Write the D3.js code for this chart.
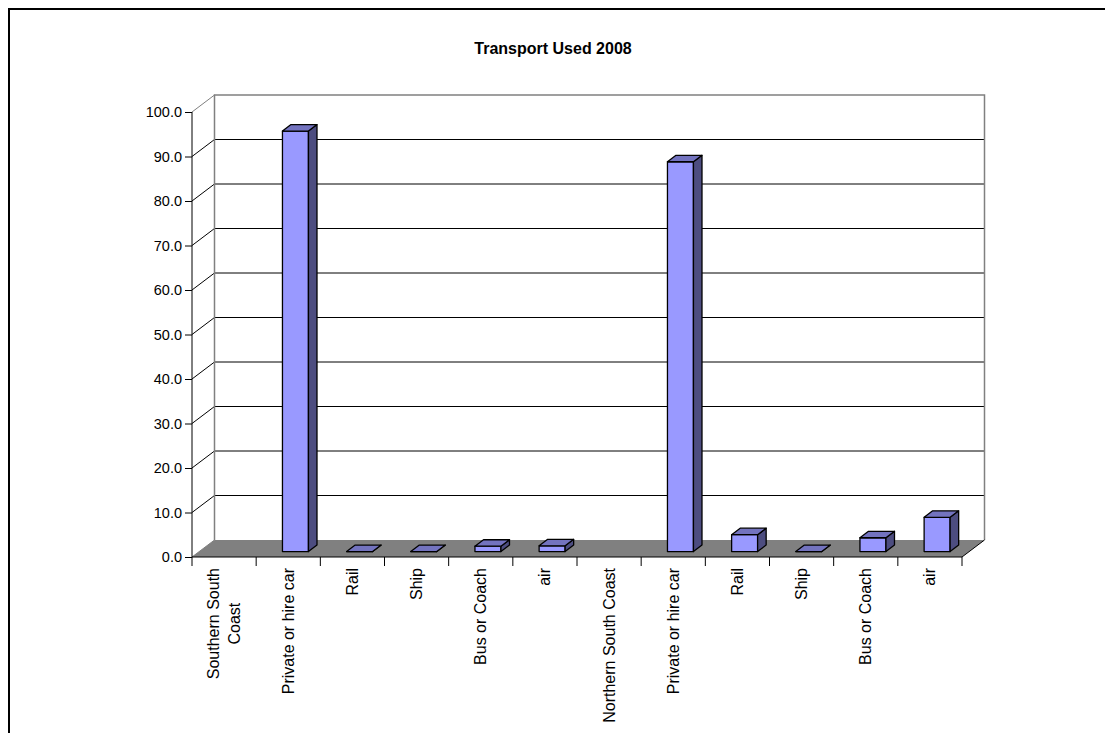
<!DOCTYPE html>
<html>
<head>
<meta charset="utf-8">
<script src="https://cdn.jsdelivr.net/npm/d3@7"></script>
<style>
  html, body { margin: 0; padding: 0; background: #fff; }
  svg { display: block; font-family: "Liberation Sans", Arial, sans-serif; }
</style>
</head>
<body>
<svg id="chart" width="1105" height="733"></svg>
<script>
// ---- data ----
const title = "Transport Used 2008";
const categories = [
  ["Southern South", "Coast"],
  ["Private or hire car"],
  ["Rail"],
  ["Ship"],
  ["Bus or Coach"],
  ["air"],
  ["Northern South Coast"],
  ["Private or hire car"],
  ["Rail"],
  ["Ship"],
  ["Bus or Coach"],
  ["air"]
];
const values = [null, 94.5, 0, 0, 1.2, 1.3, null, 87.6, 3.8, 0, 3.1, 7.7];
const yTicks = [0, 10, 20, 30, 40, 50, 60, 70, 80, 90, 100];

// ---- layout ----
const svg = d3.select("#chart");
const x0 = 192, x1 = 962;
const yBottom = 557, yTop = 112;
const depthX = 22.5, depthY = -17;
const barFront = 0.32, barBack = 0.7;
const barWidthFrac = 0.405;

const x = d3.scaleBand().domain(d3.range(categories.length)).range([x0, x1]).padding(0);
const y = d3.scaleLinear().domain([0, 100]).range([yBottom, yTop]);

const colFront = "#9999FF", colTop = "#7373BF", colSide = "#4D4D80";

// outer border
svg.append("path")
  .attr("d", `M9,${733 + 5} L9,9 L${1105 + 5},9`)
  .attr("fill", "none").attr("stroke", "#000").attr("stroke-width", 2);

// title
svg.append("text")
  .attr("x", 553).attr("y", 54)
  .attr("text-anchor", "middle")
  .attr("font-size", 16).attr("font-weight", "bold")
  .text(title);

// back wall
const bx0 = x0 + depthX, bx1 = x1 + depthX;
const by = v => y(v) + depthY;
svg.append("rect")
  .attr("x", bx0).attr("y", by(100))
  .attr("width", bx1 - bx0).attr("height", by(0) - by(100))
  .attr("fill", "#fff");

// floor
svg.append("path")
  .attr("d", `M${x0},${y(0)} L${x1},${y(0)} L${bx1},${by(0)} L${bx0},${by(0)} Z`)
  .attr("fill", "#808080").attr("stroke", "none");

// gridlines on back wall and left wall diagonals
yTicks.forEach(t => {
  if (t > 0 && t < 100) {
    svg.append("line")
      .attr("x1", bx0).attr("x2", bx1).attr("y1", by(t)).attr("y2", by(t))
      .attr("stroke", "#000").attr("stroke-width", 1);
  }
  if (t > 0) {
    svg.append("line")
      .attr("x1", x0).attr("y1", y(t)).attr("x2", bx0).attr("y2", by(t))
      .attr("stroke", t === 100 ? "#808080" : "#000").attr("stroke-width", 1);
  }
});

// back wall outline (gray)
svg.append("path")
  .attr("d", `M${bx0},${by(0)} L${bx0},${by(100)} L${bx1},${by(100)} L${bx1},${by(0)}`)
  .attr("fill", "none").attr("stroke", "#808080").attr("stroke-width", 1.5);
svg.append("line")
  .attr("x1", x0).attr("y1", y(0)).attr("x2", bx0).attr("y2", by(0))
  .attr("stroke", "#808080").attr("stroke-width", 1);

// floor right diagonal edge
svg.append("line")
  .attr("x1", x1).attr("y1", y(0)).attr("x2", bx1).attr("y2", by(0))
  .attr("stroke", "#000").attr("stroke-width", 1);

// bars
const bars = svg.append("g");
values.forEach((v, i) => {
  if (v === null) return;
  const bw = x.bandwidth() * barWidthFrac;
  const fx = x(i) + (x.bandwidth() - bw) / 2 + depthX * barFront;
  const fdy = depthY * barFront;
  const ddx = depthX * (barBack - barFront), ddy = depthY * (barBack - barFront);
  const yt = y(v) + fdy, yb = y(0) + fdy;
  // front
  bars.append("path")
    .attr("d", `M${fx},${yb} L${fx},${yt} L${fx + bw},${yt} L${fx + bw},${yb} Z`)
    .attr("fill", colFront).attr("stroke", "#000").attr("stroke-width", 1.3).attr("stroke-linejoin", "round");
  // side
  bars.append("path")
    .attr("d", `M${fx + bw},${yb} L${fx + bw},${yt} L${fx + bw + ddx},${yt + ddy} L${fx + bw + ddx},${yb + ddy} Z`)
    .attr("fill", colSide).attr("stroke", "#000").attr("stroke-width", 1.3).attr("stroke-linejoin", "round");
  // top
  bars.append("path")
    .attr("d", `M${fx},${yt} L${fx + ddx},${yt + ddy} L${fx + bw + ddx},${yt + ddy} L${fx + bw},${yt} Z`)
    .attr("fill", colTop).attr("stroke", "#000").attr("stroke-width", 1.3).attr("stroke-linejoin", "round");
});

// front axes
svg.append("line")
  .attr("x1", x0).attr("x2", x0).attr("y1", y(100)).attr("y2", y(0))
  .attr("stroke", "#000").attr("stroke-width", 1);
svg.append("line")
  .attr("x1", x0).attr("x2", x1).attr("y1", y(0)).attr("y2", y(0))
  .attr("stroke", "#000").attr("stroke-width", 1);

// y axis ticks & labels
const yAxis = d3.axisLeft(y).tickValues(yTicks).tickFormat(d3.format(".1f")).tickSize(7).tickPadding(3);
const gy = svg.append("g").attr("transform", `translate(${x0},0)`).call(yAxis);
gy.select(".domain").remove();
gy.selectAll("text").attr("font-size", 14.5).attr("font-family", "Liberation Sans, Arial, sans-serif").attr("fill", "#000");
gy.selectAll("line").attr("stroke", "#000");

// x ticks at category boundaries
const bounds = d3.range(categories.length + 1).map(k => x0 + k * x.step());
svg.append("g").selectAll("line").data(bounds).join("line")
  .attr("x1", d => d).attr("x2", d => d)
  .attr("y1", y(0)).attr("y2", y(0) + 9)
  .attr("stroke", "#000").attr("stroke-width", 1);

// x labels (rotated); multi-line labels centred among themselves, block end-aligned at top
const lbl = svg.append("g");
categories.forEach((lines, i) => {
  const cx = x(i) + x.bandwidth() / 2;
  const t = lbl.append("text")
    .attr("transform", `translate(${cx},568) rotate(-90)`)
    .attr("text-anchor", "middle")
    .attr("font-size", 16);
  const n = lines.length;
  const spans = lines.map((s, j) =>
    t.append("tspan")
      .attr("y", 0)
      .attr("dy", (5.5 + (j - (n - 1) / 2) * 21) + "px")
      .text(s));
  const maxLen = d3.max(spans, sp => sp.node().getComputedTextLength());
  spans.forEach(sp => sp.attr("x", -maxLen / 2));
});
</script>
</body>
</html>
